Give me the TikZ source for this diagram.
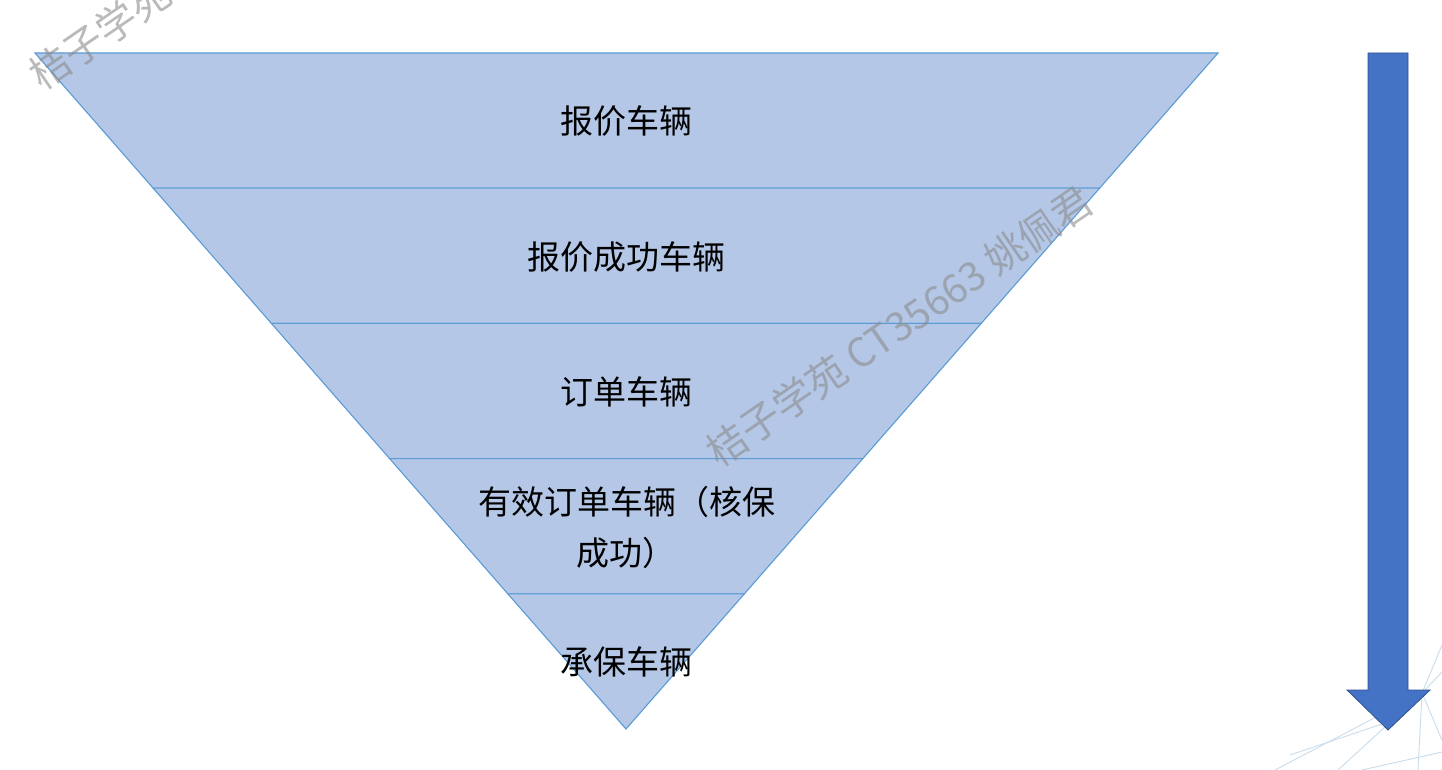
\documentclass[tikz,border=0pt]{standalone}
\usepackage{fontspec}
\newfontfamily\cjk{Noto Sans CJK SC}
\usetikzlibrary{calc}
\definecolor{layerfill}{HTML}{B4C7E7}
\definecolor{layeredge}{HTML}{5B9BD5}
\definecolor{arrowfill}{HTML}{4472C4}
\definecolor{arrowedge}{HTML}{2F528F}
\definecolor{decoline}{HTML}{C9DCEB}
\definecolor{wgray}{HTML}{8C8C8C}
\tikzset{
  layer/.style={fill=layerfill, draw=layeredge, line width=1.1pt, line join=miter},
  label/.style={font=\cjk\fontsize{33}{42}\selectfont, text=black, inner sep=0pt, align=center},
  wmark/.style={font=\cjk\fontsize{40}{46}\selectfont, text=wgray, opacity=0.6, inner sep=0pt, rotate=34.5},
  deco/.style={draw=decoline, line width=0.9pt},
  downarrow/.style={fill=arrowfill, draw=arrowedge, line width=0.8pt, line join=miter}
}
\begin{document}
\begin{tikzpicture}[x=1pt,y=-1pt]
\useasboundingbox (0,0) rectangle (1442,770);
% decorative faint lines (bottom right)
\coordinate (hub) at (1422,693);
\draw[deco] (hub) -- (1275,770);
\draw[deco] (hub) -- (1338,770);
\draw[deco] (hub) -- (1418,770);
\draw[deco] (hub) -- (1442,740);
\draw[deco] (hub) -- (1442,645);
\draw[deco] (hub) -- (1442,672);
\draw[deco] (1362,770) -- (1442,752);
\draw[deco] (1290,755) -- (1388,722);
% funnel corners
\coordinate (TL) at (35,53);
\coordinate (TR) at (1218,53);
\coordinate (B) at (626,729);
\foreach \i/\t in {1/0.2,2/0.4,3/0.6,4/0.8}{
  \coordinate (L\i) at ($(TL)!\t!(B)$);
  \coordinate (R\i) at ($(TR)!\t!(B)$);
}
\path[layer] (TL) -- (TR) -- (R1) -- (L1) -- cycle;
\path[layer] (L1) -- (R1) -- (R2) -- (L2) -- cycle;
\path[layer] (L2) -- (R2) -- (R3) -- (L3) -- cycle;
\path[layer] (L3) -- (R3) -- (R4) -- (L4) -- cycle;
\path[layer] (L4) -- (R4) -- (B) -- cycle;
% labels
\node[label] (t1) at (626,121) {报价车辆};
\node[label] (t2) at (626,257) {报价成功车辆};
\node[label] (t3) at (626,392) {订单车辆};
\node[label] (t4a) at (627,502) {有效订单车辆（核保};
\node[label] (t4b) at (626,553) {成功）};
\node[label] (t5) at (626,662) {承保车辆};
% arrow
\path[downarrow] (1368,53) -- (1408,53) -- (1408,690) -- (1430,690) -- (1388,730)
  -- (1347,690) -- (1368,690) -- cycle;
% watermarks
\node[wmark] (w1) at (100,34) {桔子学苑};
\node[wmark] (w2) at (899,326) {桔子学苑 CT35663 姚佩君};
\end{tikzpicture}
\end{document}
